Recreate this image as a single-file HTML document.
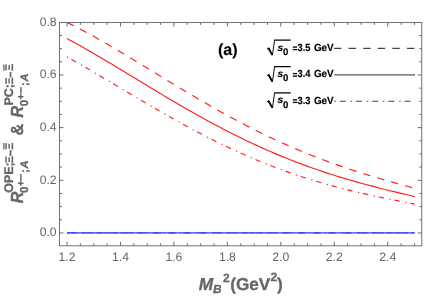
<!DOCTYPE html>
<html><head><meta charset="utf-8"><title>plot</title>
<style>
html,body{margin:0;padding:0;background:#fff;}
body{width:445px;height:296px;overflow:hidden;font-family:"Liberation Sans",sans-serif;}
svg{display:block;will-change:transform;font-family:"Liberation Sans",sans-serif;}
</style></head><body>
<svg width="445" height="296" viewBox="0 0 445 296" text-rendering="geometricPrecision">
<rect width="445" height="296" fill="#fff"/>
<!-- curves -->
<g fill="none" stroke="#ff2020" stroke-width="1.15">
<path d="M67.0,38.55 L70.0,40.17 L73.0,41.80 L76.0,43.45 L79.0,45.12 L82.0,46.81 L85.0,48.51 L88.0,50.22 L91.0,51.95 L94.0,53.69 L97.0,55.44 L100.0,57.21 L103.0,58.98 L106.0,60.76 L109.0,62.55 L112.0,64.34 L115.0,66.14 L118.0,67.95 L121.0,69.76 L124.0,71.57 L127.0,73.39 L130.0,75.21 L133.0,77.02 L136.0,78.84 L139.0,80.66 L142.0,82.48 L145.0,84.30 L148.0,86.11 L151.0,87.92 L154.0,89.73 L157.0,91.53 L160.0,93.33 L163.0,95.12 L166.0,96.90 L169.0,98.68 L172.0,100.45 L175.0,102.21 L178.0,103.96 L181.0,105.71 L184.0,107.44 L187.0,109.17 L190.0,110.88 L193.0,112.58 L196.0,114.27 L199.0,115.95 L202.0,117.62 L205.0,119.27 L208.0,120.91 L211.0,122.54 L214.0,124.15 L217.0,125.75 L220.0,127.34 L223.0,128.91 L226.0,130.46 L229.0,132.00 L232.0,133.53 L235.0,135.04 L238.0,136.53 L241.0,138.00 L244.0,139.46 L247.0,140.90 L250.0,142.33 L253.0,143.74 L256.0,145.13 L259.0,146.51 L262.0,147.86 L265.0,149.20 L268.0,150.52 L271.0,151.83 L274.0,153.12 L277.0,154.39 L280.0,155.64 L283.0,156.87 L286.0,158.09 L289.0,159.29 L292.0,160.47 L295.0,161.63 L298.0,162.78 L301.0,163.91 L304.0,165.02 L307.0,166.12 L310.0,167.20 L313.0,168.26 L316.0,169.31 L319.0,170.33 L322.0,171.35 L325.0,172.35 L328.0,173.33 L331.0,174.29 L334.0,175.25 L337.0,176.18 L340.0,177.10 L343.0,178.01 L346.0,178.91 L349.0,179.79 L352.0,180.66 L355.0,181.51 L358.0,182.35 L361.0,183.18 L364.0,184.00 L367.0,184.81 L370.0,185.61 L373.0,186.40 L376.0,187.18 L379.0,187.95 L382.0,188.71 L385.0,189.46 L388.0,190.20 L391.0,190.94 L394.0,191.67 L397.0,192.40 L400.0,193.12 L403.0,193.84 L406.0,194.55 L409.0,195.26 L412.0,195.97 L414.6,196.58"/>
<path d="M67.0,22.40 L70.0,23.87 L73.0,25.37 L76.0,26.90 L79.0,28.45 L82.0,30.03 L85.0,31.63 L88.0,33.25 L91.0,34.89 L94.0,36.55 L97.0,38.23 L100.0,39.93 L103.0,41.64 L106.0,43.37 L109.0,45.11 L112.0,46.86 L115.0,48.63 L118.0,50.41 L121.0,52.19 L124.0,53.99 L127.0,55.79 L130.0,57.60 L133.0,59.42 L136.0,61.24 L139.0,63.07 L142.0,64.90 L145.0,66.73 L148.0,68.57 L151.0,70.40 L154.0,72.24 L157.0,74.08 L160.0,75.91 L163.0,77.75 L166.0,79.58 L169.0,81.40 L172.0,83.23 L175.0,85.05 L178.0,86.86 L181.0,88.67 L184.0,90.47 L187.0,92.26 L190.0,94.05 L193.0,95.83 L196.0,97.60 L199.0,99.36 L202.0,101.11 L205.0,102.85 L208.0,104.58 L211.0,106.30 L214.0,108.01 L217.0,109.70 L220.0,111.38 L223.0,113.05 L226.0,114.71 L229.0,116.35 L232.0,117.98 L235.0,119.59 L238.0,121.19 L241.0,122.78 L244.0,124.35 L247.0,125.90 L250.0,127.44 L253.0,128.97 L256.0,130.47 L259.0,131.96 L262.0,133.44 L265.0,134.90 L268.0,136.34 L271.0,137.76 L274.0,139.17 L277.0,140.56 L280.0,141.93 L283.0,143.29 L286.0,144.63 L289.0,145.95 L292.0,147.26 L295.0,148.55 L298.0,149.82 L301.0,151.07 L304.0,152.31 L307.0,153.53 L310.0,154.73 L313.0,155.92 L316.0,157.09 L319.0,158.25 L322.0,159.39 L325.0,160.51 L328.0,161.62 L331.0,162.71 L334.0,163.78 L337.0,164.85 L340.0,165.89 L343.0,166.92 L346.0,167.94 L349.0,168.95 L352.0,169.94 L355.0,170.92 L358.0,171.88 L361.0,172.84 L364.0,173.78 L367.0,174.71 L370.0,175.63 L373.0,176.54 L376.0,177.43 L379.0,178.32 L382.0,179.20 L385.0,180.08 L388.0,180.94 L391.0,181.80 L394.0,182.65 L397.0,183.49 L400.0,184.33 L403.0,185.16 L406.0,185.99 L409.0,186.82 L412.0,187.64 L414.6,188.35" stroke-dasharray="7.4 7.1"/>
<path d="M67.0,56.84 L70.0,58.52 L73.0,60.21 L76.0,61.91 L79.0,63.62 L82.0,65.35 L85.0,67.08 L88.0,68.83 L91.0,70.58 L94.0,72.34 L97.0,74.11 L100.0,75.88 L103.0,77.65 L106.0,79.43 L109.0,81.22 L112.0,83.00 L115.0,84.79 L118.0,86.58 L121.0,88.37 L124.0,90.16 L127.0,91.94 L130.0,93.73 L133.0,95.51 L136.0,97.29 L139.0,99.06 L142.0,100.83 L145.0,102.60 L148.0,104.35 L151.0,106.11 L154.0,107.85 L157.0,109.59 L160.0,111.31 L163.0,113.03 L166.0,114.74 L169.0,116.45 L172.0,118.14 L175.0,119.82 L178.0,121.48 L181.0,123.14 L184.0,124.78 L187.0,126.42 L190.0,128.03 L193.0,129.64 L196.0,131.23 L199.0,132.81 L202.0,134.37 L205.0,135.92 L208.0,137.45 L211.0,138.97 L214.0,140.47 L217.0,141.96 L220.0,143.43 L223.0,144.88 L226.0,146.32 L229.0,147.74 L232.0,149.14 L235.0,150.53 L238.0,151.90 L241.0,153.25 L244.0,154.58 L247.0,155.90 L250.0,157.20 L253.0,158.48 L256.0,159.74 L259.0,160.98 L262.0,162.20 L265.0,163.41 L268.0,164.60 L271.0,165.77 L274.0,166.92 L277.0,168.06 L280.0,169.17 L283.0,170.27 L286.0,171.35 L289.0,172.41 L292.0,173.45 L295.0,174.48 L298.0,175.49 L301.0,176.48 L304.0,177.45 L307.0,178.41 L310.0,179.35 L313.0,180.27 L316.0,181.18 L319.0,182.07 L322.0,182.94 L325.0,183.80 L328.0,184.64 L331.0,185.47 L334.0,186.28 L337.0,187.08 L340.0,187.87 L343.0,188.64 L346.0,189.39 L349.0,190.14 L352.0,190.87 L355.0,191.59 L358.0,192.29 L361.0,192.99 L364.0,193.67 L367.0,194.35 L370.0,195.01 L373.0,195.67 L376.0,196.31 L379.0,196.95 L382.0,197.58 L385.0,198.20 L388.0,198.82 L391.0,199.43 L394.0,200.03 L397.0,200.63 L400.0,201.22 L403.0,201.81 L406.0,202.40 L409.0,202.99 L412.0,203.57 L414.6,204.08" stroke-dasharray="1.2 3.9 5.4 5.63" stroke-dashoffset="0"/>
</g>
<g fill="none" stroke="#3a3aff" stroke-width="1.3">
<path d="M67,232.95 H414.6"/>
<path d="M67,232.95 H414.6" stroke-dasharray="7.4 7.1" stroke-width="1.2" opacity="0.7"/>
<path d="M67,232.95 H414.6" stroke-dasharray="1.2 3.9 5.4 5.63" stroke-width="1.2" opacity="0.7"/>
</g>
<!-- frame -->
<rect x="59.5" y="22.5" width="362.25" height="223.3" fill="none" stroke="#727272" stroke-width="1"/>
<path d="M67.00,245.8 v-4.0 M67.00,22.5 v4.0 M80.37,245.8 v-2.4 M80.37,22.5 v2.4 M93.73,245.8 v-2.4 M93.73,22.5 v2.4 M107.10,245.8 v-2.4 M107.10,22.5 v2.4 M120.46,245.8 v-4.0 M120.46,22.5 v4.0 M133.82,245.8 v-2.4 M133.82,22.5 v2.4 M147.19,245.8 v-2.4 M147.19,22.5 v2.4 M160.56,245.8 v-2.4 M160.56,22.5 v2.4 M173.92,245.8 v-4.0 M173.92,22.5 v4.0 M187.28,245.8 v-2.4 M187.28,22.5 v2.4 M200.65,245.8 v-2.4 M200.65,22.5 v2.4 M214.02,245.8 v-2.4 M214.02,22.5 v2.4 M227.38,245.8 v-4.0 M227.38,22.5 v4.0 M240.75,245.8 v-2.4 M240.75,22.5 v2.4 M254.11,245.8 v-2.4 M254.11,22.5 v2.4 M267.48,245.8 v-2.4 M267.48,22.5 v2.4 M280.84,245.8 v-4.0 M280.84,22.5 v4.0 M294.20,245.8 v-2.4 M294.20,22.5 v2.4 M307.57,245.8 v-2.4 M307.57,22.5 v2.4 M320.94,245.8 v-2.4 M320.94,22.5 v2.4 M334.30,245.8 v-4.0 M334.30,22.5 v4.0 M347.67,245.8 v-2.4 M347.67,22.5 v2.4 M361.03,245.8 v-2.4 M361.03,22.5 v2.4 M374.40,245.8 v-2.4 M374.40,22.5 v2.4 M387.76,245.8 v-4.0 M387.76,22.5 v4.0 M401.13,245.8 v-2.4 M401.13,22.5 v2.4 M414.49,245.8 v-2.4 M414.49,22.5 v2.4 M59.5,232.95 h4.0 M421.75,232.95 h-4.0 M59.5,219.78 h2.4 M421.75,219.78 h-2.4 M59.5,206.62 h2.4 M421.75,206.62 h-2.4 M59.5,193.45 h2.4 M421.75,193.45 h-2.4 M59.5,180.29 h4.0 M421.75,180.29 h-4.0 M59.5,167.12 h2.4 M421.75,167.12 h-2.4 M59.5,153.96 h2.4 M421.75,153.96 h-2.4 M59.5,140.79 h2.4 M421.75,140.79 h-2.4 M59.5,127.63 h4.0 M421.75,127.63 h-4.0 M59.5,114.46 h2.4 M421.75,114.46 h-2.4 M59.5,101.30 h2.4 M421.75,101.30 h-2.4 M59.5,88.13 h2.4 M421.75,88.13 h-2.4 M59.5,74.97 h4.0 M421.75,74.97 h-4.0 M59.5,61.80 h2.4 M421.75,61.80 h-2.4 M59.5,48.64 h2.4 M421.75,48.64 h-2.4 M59.5,35.47 h2.4 M421.75,35.47 h-2.4" stroke="#6a6a6a" stroke-width="1" fill="none"/>
<!-- tick labels -->
<g font-size="12.2" fill="#666666"><text x="67.00" y="260.9" text-anchor="middle">1.2</text><text x="120.46" y="260.9" text-anchor="middle">1.4</text><text x="173.92" y="260.9" text-anchor="middle">1.6</text><text x="227.38" y="260.9" text-anchor="middle">1.8</text><text x="280.84" y="260.9" text-anchor="middle">2.0</text><text x="334.30" y="260.9" text-anchor="middle">2.2</text><text x="387.76" y="260.9" text-anchor="middle">2.4</text><text x="56.6" y="236.35" text-anchor="end">0.0</text><text x="56.6" y="183.69" text-anchor="end">0.2</text><text x="56.6" y="131.03" text-anchor="end">0.4</text><text x="56.6" y="78.37" text-anchor="end">0.6</text><text x="56.6" y="25.71" text-anchor="end">0.8</text></g>
<!-- x label -->
<g fill="#666666" font-weight="bold" stroke="#666666" stroke-width="0.3">
<text x="198.7" y="289.8" font-size="17.3" font-style="italic">M</text>
<text x="212.9" y="293.0" font-size="11.8" font-style="italic">B</text>
<text x="222.9" y="282.3" font-size="12">2</text>
<text x="230.2" y="289.8" font-size="17.2">(GeV</text>
<text x="270.6" y="281.4" font-size="12">2</text>
<text x="276.9" y="289.8" font-size="17.2">)</text>
</g>
<!-- y label -->
<g fill="#666666" font-weight="bold" stroke="#666666" stroke-width="0.3">
<text transform="translate(22.50,203.20) rotate(-90) scale(0.92,1)" font-size="17.5" font-style="italic">R</text><text transform="translate(13.30,192.80) rotate(-90)" font-size="12.5">OPE;</text><text transform="translate(13.30,163.20) rotate(-90)" font-size="11">Ξ</text><rect x="9.88" y="150.70" width="1.25" height="5.30"/><text transform="translate(13.30,149.80) rotate(-90)" font-size="11">Ξ</text><rect x="3.40" y="143.60" width="1.0" height="5.70"/><text transform="translate(28.40,193.10) rotate(-90)" font-size="11.5">0</text><text transform="translate(24.00,186.30) rotate(-90)" font-size="10">+</text><rect x="20.27" y="174.60" width="1.25" height="5.70"/><text transform="translate(28.40,172.80) rotate(-90)" font-size="11">;</text><text transform="translate(27.80,168.50) rotate(-90)" font-size="11" font-style="italic">A</text><text transform="translate(22.50,135.50) rotate(-90) scale(0.93,1)" font-size="17.5">&amp;</text><text transform="translate(22.50,117.50) rotate(-90) scale(0.92,1)" font-size="17.5" font-style="italic">R</text><text transform="translate(13.30,105.50) rotate(-90)" font-size="12.5">PC;</text><text transform="translate(13.30,84.50) rotate(-90)" font-size="11">Ξ</text><rect x="9.88" y="72.00" width="1.25" height="5.30"/><text transform="translate(13.30,71.10) rotate(-90)" font-size="11">Ξ</text><rect x="3.40" y="64.90" width="1.0" height="5.70"/><text transform="translate(28.40,106.20) rotate(-90)" font-size="11.5">0</text><text transform="translate(24.00,99.40) rotate(-90)" font-size="10">+</text><rect x="20.27" y="87.70" width="1.25" height="5.70"/><text transform="translate(28.40,85.90) rotate(-90)" font-size="11">;</text><text transform="translate(27.80,81.60) rotate(-90)" font-size="11" font-style="italic">A</text>
</g>
<!-- panel label -->
<text x="217.9" y="54.5" font-size="16.1" font-weight="bold" fill="#000" stroke="#000" stroke-width="0.1">(a)</text>
<!-- legend -->
<g transform="translate(0,0)"><path d="M266.9,49.3 L268.6,47.9 L272.4,55.2 L274.6,40.1" fill="none" stroke="#000" stroke-width="0.95" stroke-linejoin="miter"/><path d="M274.2,40.1 H290.8" fill="none" stroke="#000" stroke-width="1.25"/><path d="M268.4,48.0 L272.3,55.0" fill="none" stroke="#000" stroke-width="1.8"/><text x="277.5" y="50.6" font-size="10.2" font-weight="bold" stroke="#000" stroke-width="0.18" font-style="italic">s</text><text x="283.0" y="54.8" font-size="9.6" font-weight="bold" stroke="#000" stroke-width="0.18">0</text><rect x="292.8" y="46.45" width="4.3" height="1.3"/><rect x="292.8" y="48.95" width="4.3" height="1.3"/><text transform="translate(297.5,50.7) scale(0.9,1)" font-size="10.3" font-weight="bold" stroke="#000" stroke-width="0.18">3.5</text><text transform="translate(313.9,50.7) scale(0.96,1)" font-size="10.3" font-weight="bold" stroke="#000" stroke-width="0.18">GeV</text><path d="M334.0,48.4 H415" stroke="#444" stroke-width="1.1" stroke-dasharray="7.4 7.2" fill="none"/></g><g transform="translate(0,26.5)"><path d="M266.9,49.3 L268.6,47.9 L272.4,55.2 L274.6,40.1" fill="none" stroke="#000" stroke-width="0.95" stroke-linejoin="miter"/><path d="M274.2,40.1 H290.8" fill="none" stroke="#000" stroke-width="1.25"/><path d="M268.4,48.0 L272.3,55.0" fill="none" stroke="#000" stroke-width="1.8"/><text x="277.5" y="50.6" font-size="10.2" font-weight="bold" stroke="#000" stroke-width="0.18" font-style="italic">s</text><text x="283.0" y="54.8" font-size="9.6" font-weight="bold" stroke="#000" stroke-width="0.18">0</text><rect x="292.8" y="46.45" width="4.3" height="1.3"/><rect x="292.8" y="48.95" width="4.3" height="1.3"/><text transform="translate(297.5,50.7) scale(0.9,1)" font-size="10.3" font-weight="bold" stroke="#000" stroke-width="0.18">3.4</text><text transform="translate(313.9,50.7) scale(0.96,1)" font-size="10.3" font-weight="bold" stroke="#000" stroke-width="0.18">GeV</text><path d="M334.4,48.4 H415" stroke="#555" stroke-width="1.1" fill="none"/></g><g transform="translate(0,52.8)"><path d="M266.9,49.3 L268.6,47.9 L272.4,55.2 L274.6,40.1" fill="none" stroke="#000" stroke-width="0.95" stroke-linejoin="miter"/><path d="M274.2,40.1 H290.8" fill="none" stroke="#000" stroke-width="1.25"/><path d="M268.4,48.0 L272.3,55.0" fill="none" stroke="#000" stroke-width="1.8"/><text x="277.5" y="50.6" font-size="10.2" font-weight="bold" stroke="#000" stroke-width="0.18" font-style="italic">s</text><text x="283.0" y="54.8" font-size="9.6" font-weight="bold" stroke="#000" stroke-width="0.18">0</text><rect x="292.8" y="46.45" width="4.3" height="1.3"/><rect x="292.8" y="48.95" width="4.3" height="1.3"/><text transform="translate(297.5,50.7) scale(0.9,1)" font-size="10.3" font-weight="bold" stroke="#000" stroke-width="0.18">3.3</text><text transform="translate(313.9,50.7) scale(0.96,1)" font-size="10.3" font-weight="bold" stroke="#000" stroke-width="0.18">GeV</text><path d="M334.4,48.4 H411" stroke="#444" stroke-width="1.1" stroke-dasharray="1.4 4.0 6.0 4.8" fill="none"/></g>
</svg>
</body></html>
